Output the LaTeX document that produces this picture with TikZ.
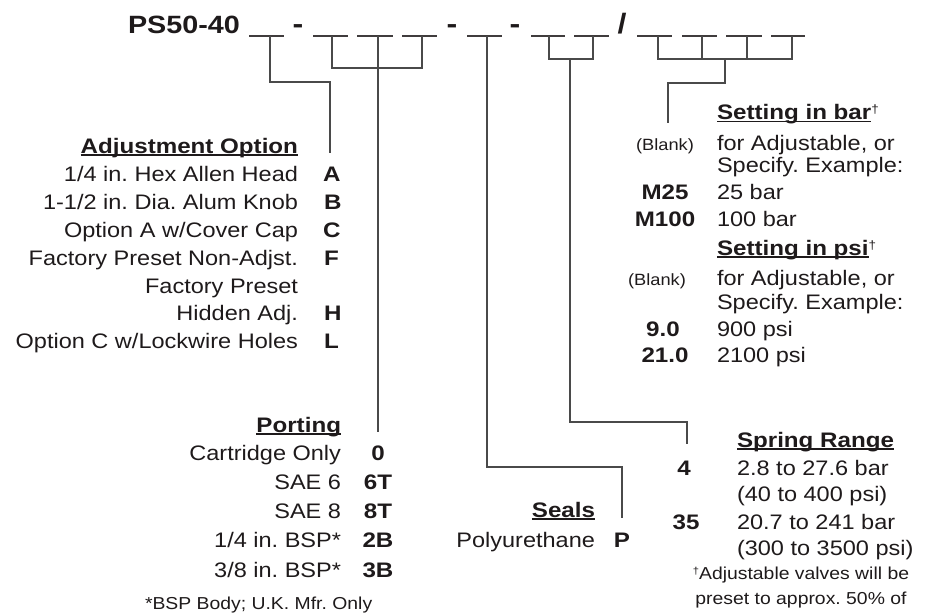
\documentclass[tikz,border=0pt]{standalone}
\usepackage{fontspec}
\setmainfont[FakeStretch=1.12, BoldFeatures={FakeStretch=1.15}]{Liberation Sans}
\definecolor{textc}{HTML}{1E1A1B}
\definecolor{linec}{HTML}{4A4A4A}
\newcommand\myul[1]{\setbox0\hbox{#1}\rlap{\color{textc}\rule[-2.6pt]{\wd0}{1.2pt}}\box0}
\newcommand\mydag{\raisebox{6pt}{\fontsize{12}{12}\selectfont\mdseries †}}
\begin{document}
\frenchspacing
\begin{tikzpicture}[x=1pt,y=-1pt,
  txt/.style={inner sep=0pt, outer sep=0pt, text=textc, font=\fontsize{21}{25}\selectfont},
  hd/.style={txt, font=\fontsize{21}{25}\selectfont\bfseries},
  cd/.style={txt, font=\fontsize{21}{25}\selectfont\bfseries, anchor=base},
  sm/.style={txt, font=\fontsize{16.3}{19}\selectfont, anchor=base},
  ft/.style={txt, font=\fontsize{17.3}{20}\selectfont, anchor=base},
  big/.style={txt, font=\fontsize{28}{30}\selectfont\bfseries, anchor=base},
  lnk/.style={draw=linec, line width=1.2pt},
  blk/.style={draw=textc!85, line width=1.2pt},
]
\useasboundingbox (0,0) rectangle (932,613);

% ---------- header ----------
\node[txt, anchor=base west, font=\fontsize{25}{30}\selectfont\bfseries] (title) at (128,33) {PS50-40};
\node[big] (d1) at (298,33) {-};
\node[big] (d2) at (452,33) {-};
\node[big] (d3) at (515,33) {-};
\node[big] (sl) at (622,33) {/};

\foreach \a/\b in {249/284, 313/348, 357/393, 402/437, 467/502, 531/565, 574/609, 637/672, 682/717, 726/762, 771/805}
  \draw[blk] (\a,36) -- (\b,36);

% ---------- tick coordinates ----------
\coordinate (t1) at (270,36);
\coordinate (t2) at (332,36);
\coordinate (t3) at (378,36);
\coordinate (t4) at (422,36);
\coordinate (t5) at (487,36);
\coordinate (t6) at (549,36);
\coordinate (t7) at (593,36);
\coordinate (t8) at (658,36);
\coordinate (t9) at (702,36);
\coordinate (t10) at (747,36);
\coordinate (t11) at (792,36);

\coordinate (k1) at (270,82);
\coordinate (adjtop) at (330,153);
\coordinate (h4) at (422,68);
\coordinate (porttop) at (378,432);
\coordinate (k5) at (487,467);
\coordinate (sealtop) at (622,518);
\coordinate (h7) at (593,59);
\coordinate (m67) at (570,59);
\coordinate (k67) at (570,422);
\coordinate (springtop) at (687,444);
\coordinate (h9) at (702,59);
\coordinate (h10) at (747,59);
\coordinate (h11) at (792,59);
\coordinate (m811) at (725,59);
\coordinate (k811) at (725,83);
\coordinate (settop) at (668,123);

% ---------- connectors ----------
\draw[lnk] (t1) -- (k1) -| (adjtop);
\draw[lnk] (t2) |- (h4) -- (t4);
\draw[lnk] (t3) -- (porttop);
\draw[lnk] (t5) -- (k5) -| (sealtop);
\draw[lnk] (t6) |- (h7) -- (t7);
\draw[lnk] (m67) -- (k67) -| (springtop);
\draw[lnk] (t8) |- (h11) -- (t11);
\draw[lnk] (t9) -- (h9);
\draw[lnk] (t10) -- (h10);
\draw[lnk] (m811) -- (k811) -| (settop);

% ---------- Adjustment Option ----------
\node[hd, anchor=base east] (adjh) at (298,153) {\myul{Adjustment Option}};
\node[txt, anchor=base east] (a1) at (298,181.7) {1/4 in. Hex Allen Head};
\node[txt, anchor=base east] (a2) at (298,209.3) {1-1/2 in. Dia. Alum Knob};
\node[txt, anchor=base east] (a3) at (298,237.3) {Option A w/Cover Cap};
\node[txt, anchor=base east] (a4) at (298,265) {Factory Preset Non-Adjst.};
\node[txt, anchor=base east] (a5) at (298,293.3) {Factory Preset};
\node[txt, anchor=base east] (a6) at (298,320.7) {Hidden Adj.};
\node[txt, anchor=base east] (a7) at (298,348.3) {Option C w/Lockwire Holes};
\node[cd, anchor=base west] (ca1) at (323,181.7) {A};
\node[cd, anchor=base west] (ca2) at (324,209.3) {B};
\node[cd, anchor=base west] (ca3) at (323,237.3) {C};
\node[cd, anchor=base west] (ca4) at (324,265) {F};
\node[cd, anchor=base west] (ca6) at (324,320.7) {H};
\node[cd, anchor=base west] (ca7) at (324,348.3) {L};

% ---------- Porting ----------
\node[hd, anchor=base east] (porth) at (341,432) {\myul{Porting}};
\node[txt, anchor=base east] (p1) at (341,460) {Cartridge Only};
\node[txt, anchor=base east] (p2) at (341,489) {SAE 6};
\node[txt, anchor=base east] (p3) at (341,518) {SAE 8};
\node[txt, anchor=base east] (p4) at (341,547) {1/4 in. BSP*};
\node[txt, anchor=base east] (p5) at (341,577) {3/8 in. BSP*};
\node[cd] (cp1) at (378,460) {0};
\node[cd] (cp2) at (378,489) {6T};
\node[cd] (cp3) at (378,518) {8T};
\node[cd] (cp4) at (378,547) {2B};
\node[cd] (cp5) at (378,577) {3B};
\node[ft, anchor=base west] (fn1) at (145,609) {*BSP Body; U.K. Mfr. Only};

% ---------- Seals ----------
\node[hd, anchor=base east] (sealh) at (595,517) {\myul{Seals}};
\node[txt, anchor=base east] (s1) at (595,547) {Polyurethane};
\node[cd] (cs1) at (622,547) {P};

% ---------- Spring Range ----------
\node[hd, anchor=base west] (springh) at (737,447) {\myul{Spring Range}};
\node[cd] (cr1) at (684,475) {4};
\node[txt, anchor=base west] (r1) at (737,475) {2.8 to 27.6 bar};
\node[txt, anchor=base west] (r2) at (737,501) {(40 to 400 psi)};
\node[cd] (cr2) at (686,529) {35};
\node[txt, anchor=base west] (r3) at (737,529) {20.7 to 241 bar};
\node[txt, anchor=base west] (r4) at (737,555) {(300 to 3500 psi)};
\node[ft] (fn2a) at (801,579) {\raisebox{5pt}{\fontsize{10}{10}\selectfont †}Adjustable valves will be};
\node[ft] (fn2b) at (801,604) {preset to approx. 50\% of};

% ---------- Setting in bar / psi ----------
\node[hd, anchor=base west] (barh) at (717,119.3) {\myul{Setting in bar}\mydag};
\node[sm] (bb1) at (665,150) {(Blank)};
\node[txt, anchor=base west] (b1) at (717,150) {for Adjustable, or};
\node[txt, anchor=base west] (b2) at (717,172.5) {Specify. Example:};
\node[cd] (cb1) at (665,199.3) {M25};
\node[txt, anchor=base west] (b3) at (717,199.3) {25 bar};
\node[cd] (cb2) at (665,226.7) {M100};
\node[txt, anchor=base west] (b4) at (717,226.7) {100 bar};
\node[hd, anchor=base west] (psih) at (717,255) {\myul{Setting in psi}\mydag};
\node[sm] (bb2) at (657,285) {(Blank)};
\node[txt, anchor=base west] (q1) at (717,285) {for Adjustable, or};
\node[txt, anchor=base west] (q2) at (717,309.3) {Specify. Example:};
\node[cd] (cq1) at (663,336) {9.0};
\node[txt, anchor=base west] (q3) at (717,336) {900 psi};
\node[cd] (cq2) at (665,362.7) {21.0};
\node[txt, anchor=base west] (q4) at (717,362.7) {2100 psi};
\end{tikzpicture}
\end{document}
